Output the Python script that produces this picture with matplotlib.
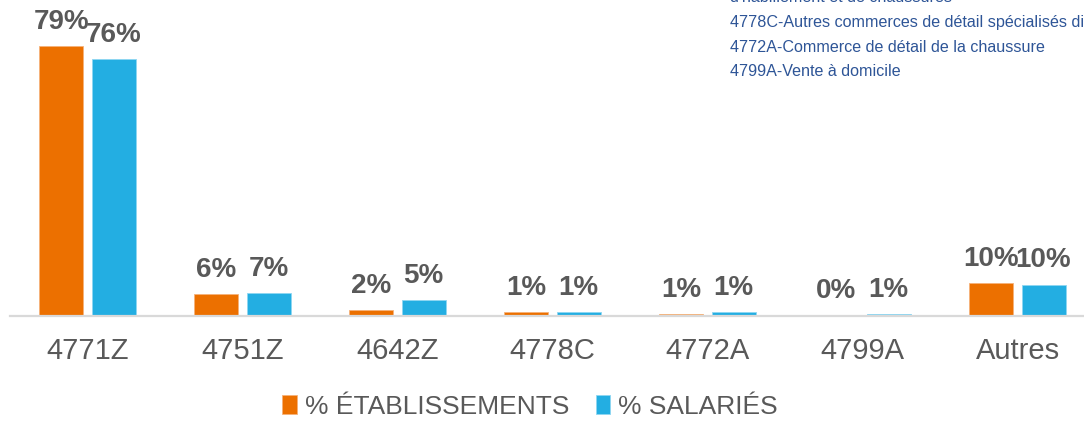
import numpy as np
from matplotlib import pyplot as plt

categories = ['4771Z', '4751Z', '4642Z', '4778C', '4772A', '4799A', 'Autres']
etablissements = [79.0, 6.4, 1.8, 1.2, 0.6, 0.2, 9.6]
salaries = [75.2, 6.6, 4.7, 1.2, 1.2, 0.6, 9.2]
labels_etab = ['79%', '6%', '2%', '1%', '1%', '0%', '10%']
labels_sal = ['76%', '7%', '5%', '1%', '1%', '1%', '10%']
notes = [
    "d'habillement et de chaussures",
    '4778C-Autres commerces de détail spécialisés divers',
    '4772A-Commerce de détail de la chaussure',
    '4799A-Vente à domicile',
]

ORANGE = '#EC7000'
BLUE = '#23AEE2'
GREY = '#595959'


def main():
    plt.rcParams['font.family'] = ['Liberation Sans', 'DejaVu Sans']
    fig = plt.figure(figsize=(10.84, 4.21), dpi=100)
    ax = fig.add_axes([10 / 1084, 105 / 421, 1085 / 1084, 316 / 421])

    x = np.arange(len(categories))
    w = 0.284
    off = 0.168
    b1 = ax.bar(x - off, etablissements, w, color=ORANGE, label='% ÉTABLISSEMENTS',
                edgecolor='#F5B27A', linewidth=0.6)
    b2 = ax.bar(x + off, salaries, w, color=BLUE, label='% SALARIÉS',
                edgecolor='#8ED6F2', linewidth=0.6)
    ax.bar_label(b1, labels=labels_etab, padding=8, fontsize=20, fontweight='bold', color=GREY)
    ax.bar_label(b2, labels=labels_sal, padding=8, fontsize=20, fontweight='bold', color=GREY)

    ax.set_xlim(-0.5, len(categories) - 0.5)
    ax.set_ylim(0, 92.4)
    ax.set_xticks(x)
    ax.set_xticklabels(categories, fontsize=21, color=GREY)
    ax.tick_params(axis='x', length=0, pad=15)
    ax.set_yticks([])
    for side in ('top', 'right', 'left'):
        ax.spines[side].set_visible(False)
    ax.spines['bottom'].set_color('#D9D9D9')
    ax.spines['bottom'].set_linewidth(1.6)

    # notes in the top right corner, first line cut by the border (as in the source)
    for i, note in enumerate(notes):
        fig.text(730 / 1084, 1 - (-3 + 25 * i) / 421, note, fontsize=11.6, color='#2E5597',
                 va='center', ha='left')

    fig.legend(handles=[b1, b2], loc='center', bbox_to_anchor=(530 / 1084, 14 / 421),
               ncol=2, frameon=False, fontsize=19, handlelength=0.55, handleheight=0.75,
               handletextpad=0.3, columnspacing=1.0, labelcolor=GREY, borderpad=0.1)

    fig.savefig('out.png', dpi=100)


if __name__ == '__main__':
    main()
